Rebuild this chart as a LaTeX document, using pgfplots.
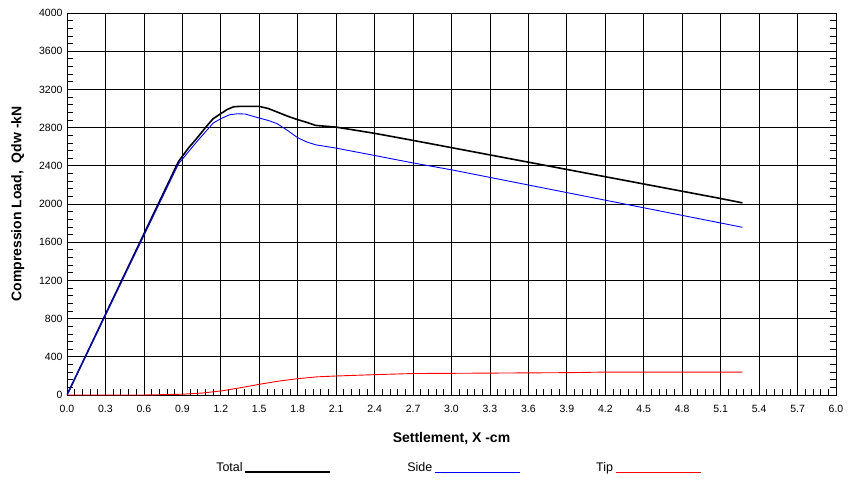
\documentclass[border=0pt]{standalone}
\usepackage{pgfplots}
\pgfplotsset{compat=1.18}
\usepackage{fontspec}
\setmainfont{Liberation Sans}
\begin{document}
\begin{tikzpicture}
\path[use as bounding box] (-67pt,-89pt) rectangle (783pt,395pt);
\begin{axis}[
  at={(0pt,0pt)}, anchor=south west,
  scale only axis, width=769pt, height=382pt,
  xmin=0, xmax=6, ymin=0, ymax=4000,
  xtick={0,0.3,0.6,0.9,1.2,1.5,1.8,2.1,2.4,2.7,3.0,3.3,3.6,3.9,4.2,4.5,4.8,5.1,5.4,5.7,6.0},
  ytick={0,400,...,4000},
  minor x tick num=4, minor y tick num=4,
  xmajorgrids, ymajorgrids,
  major grid style={black, line width=0.8pt},
  axis line style={black, line width=0.8pt},
  tick align=inside,
  major tick length=0pt, minor tick length=6pt,
  minor tick style={black, line width=0.7pt},
  xtick pos=bottom, ytick pos=both,
  /pgf/number format/assume math mode=true,
  xticklabel style={font=\fontsize{10.5}{12}\selectfont, /pgf/number format/.cd, fixed, fixed zerofill, precision=1},
  yticklabel style={font=\fontsize{10.5}{12}\selectfont, /pgf/number format/.cd, fixed, 1000 sep={}},
  xticklabel shift=7pt, yticklabel shift=1pt,
  xlabel={\textbf{Settlement, X -cm}},
  ylabel={\textbf{Compression Load,\ \ Qdw -kN}},
  label style={font=\fontsize{14}{16}\selectfont},
  xlabel style={at={(axis description cs:0.5,-0.1126)}, anchor=center},
  ylabel style={at={(axis description cs:-0.064,0.5)}, anchor=center, rotate=0},
  legend columns=3,
  legend plot pos=right,
  legend style={at={(axis description cs:0.508,-0.191)}, anchor=center, draw=none, fill=none,
    font=\fontsize{12.5}{14}\selectfont,
    /tikz/every even column/.append style={column sep=74pt}},
  legend image code/.code={\draw[#1] (2pt,-4pt) -- (87pt,-4pt);},
]
\addplot[black, line width=1.6pt] coordinates {
(0,0) (0.87,2445) (0.95,2590) (1.01,2683) (1.08,2800) (1.14,2893) (1.20,2946) (1.25,2990) (1.30,3018) (1.35,3022) (1.50,3022) (1.57,3000) (1.64,2963) (1.72,2920) (1.80,2883) (1.87,2855) (1.94,2823) (2.10,2805) (2.40,2740) (2.70,2666) (3.00,2590) (5.09,2060) (5.27,2012)
};
\addlegendentry{Total}
\addplot[color=blue, line width=0.9pt] coordinates {
(0,0) (0.87,2420) (1.01,2648) (1.14,2847) (1.20,2893) (1.27,2935) (1.33,2945) (1.39,2942) (1.50,2900) (1.57,2875) (1.64,2841) (1.72,2771) (1.80,2694) (1.87,2650) (1.94,2620) (2.10,2585) (2.40,2508) (2.70,2430) (3.00,2358) (5.09,1804) (5.27,1756)
};
\addlegendentry{Side}
\addplot[color=red, line width=0.9pt] coordinates {
(0,0) (0.6,0) (0.9,8) (1.05,20) (1.2,42) (1.35,75) (1.5,112) (1.65,145) (1.8,171) (1.95,190) (2.1,199) (2.4,213) (2.7,225) (3.0,227) (3.9,234) (4.2,240) (5.27,240)
};
\addlegendentry{Tip}
\end{axis}
\end{tikzpicture}
\end{document}
